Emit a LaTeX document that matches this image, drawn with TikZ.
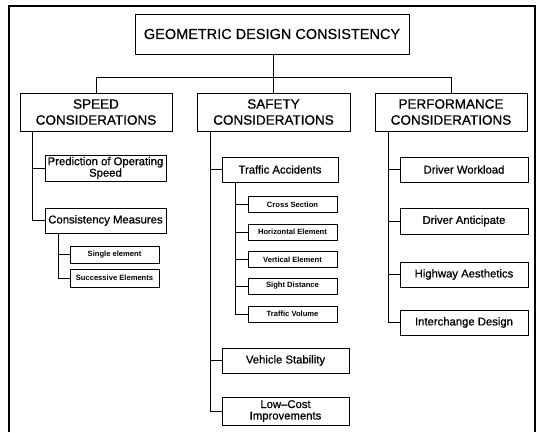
\documentclass[tikz,border=0pt]{standalone}
\usepackage{fontspec}
\setmainfont{Liberation Sans}
\newfontfamily\medfont[FakeBold=0.8]{Liberation Sans}
\newfontfamily\titfont[FakeBold=0.4]{Liberation Sans}
\begin{document}
\begin{tikzpicture}[x=1pt,y=-1pt,
  box/.style={draw, line width=0.9pt, inner sep=0pt, align=center},
  titlebox/.style={box, font=\titfont\fontsize{14.5}{16}\selectfont},
  headbox/.style={box, font=\medfont\fontsize{13.5}{16}\selectfont},
  itembox/.style={box, font=\medfont\fontsize{11.3}{11.5}\selectfont},
  smallbox/.style={box, line width=0.8pt, font=\bfseries\fontsize{7.6}{9}\selectfont},
  conn/.style={line width=0.8pt}
]
\useasboundingbox (0,0) rectangle (539,432);
% frame
\draw[line width=1.2pt] (9,432) -- (9,6) -- (535,6) -- (535,432);

% title
\node[titlebox, minimum width=274pt, minimum height=40pt] (title) at (272,34) {GEOMETRIC DESIGN CONSISTENCY};

% level 2
\node[headbox, minimum width=152pt, minimum height=38pt] (speed) at (96,112) {SPEED\\CONSIDERATIONS};
\node[headbox, minimum width=153pt, minimum height=38pt] (safety) at (273.5,112) {SAFETY\\CONSIDERATIONS};
\node[headbox, minimum width=152pt, minimum height=38pt] (perf) at (451,112) {PERFORMANCE\\CONSIDERATIONS};

\draw[conn] (speed.north) -- ++(0,-15) -| (perf.north);
\draw[conn] (safety.north) -- (safety.north |- title.south);

% speed children
\node[itembox, minimum width=121pt, minimum height=26pt] (pred) at (105.5,168) {Prediction of Operating\\Speed};
\node[itembox, minimum width=121pt, minimum height=25pt] (cm) at (105.5,220.5) {Consistency Measures};
\node[smallbox, minimum width=89pt, minimum height=17pt] (single) at (114.5,254.5) {Single element};
\node[smallbox, minimum width=89pt, minimum height=18pt] (succ) at (114.5,278) {Successive Elements};

\coordinate (st) at (32,131);
\draw[conn] (st) |- (cm.west);
\draw[conn] (st |- pred.west) -- (pred.west);
\coordinate (cmt) at (58,233);
\draw[conn] (cmt) |- (succ.west);
\draw[conn] (cmt |- single.west) -- (single.west);

% safety children
\node[itembox, minimum width=116pt, minimum height=25pt] (ta) at (280,169.5) {Traffic Accidents};
\node[smallbox, minimum width=89pt, minimum height=16pt] (cross) at (292.5,204.5) {Cross Section};
\node[smallbox, minimum width=89pt, minimum height=16pt] (horiz) at (292.5,232) {Horizontal Element};
\node[smallbox, minimum width=89pt, minimum height=16pt] (vert) at (292.5,259.5) {Vertical Element};
\node[smallbox, minimum width=89pt, minimum height=16pt] (sight) at (292.5,286) {Sight Distance};
\node[smallbox, minimum width=89pt, minimum height=16pt] (vol) at (292.5,314) {Traffic Volume};
\node[itembox, minimum width=127pt, minimum height=25pt] (veh) at (285.5,360.5) {Vehicle Stability};
\node[itembox, minimum width=127pt, minimum height=28pt] (low) at (285.5,411) {Low–Cost\\Improvements};

\coordinate (sft) at (210,131);
\draw[conn] (sft) |- (low.west);
\draw[conn] (sft |- ta.west) -- (ta.west);
\draw[conn] (sft |- veh.west) -- (veh.west);
\coordinate (tat) at (235,182);
\draw[conn] (tat) |- (vol.west);
\foreach \n in {cross,horiz,vert,sight}
  \draw[conn] (tat |- \n.west) -- (\n.west);

% performance children
\node[itembox, minimum width=128pt, minimum height=25pt] (dw) at (464,169.5) {Driver Workload};
\node[itembox, minimum width=128pt, minimum height=26pt] (da) at (464,221) {Driver Anticipate};
\node[itembox, minimum width=128pt, minimum height=25pt] (ha) at (464,274.5) {Highway Aesthetics};
\node[itembox, minimum width=128pt, minimum height=25pt] (id) at (464,322.5) {Interchange Design};

\coordinate (pt) at (388,131);
\draw[conn] (pt) |- (id.west);
\foreach \n in {dw,da,ha}
  \draw[conn] (pt |- \n.west) -- (\n.west);
\end{tikzpicture}
\end{document}
